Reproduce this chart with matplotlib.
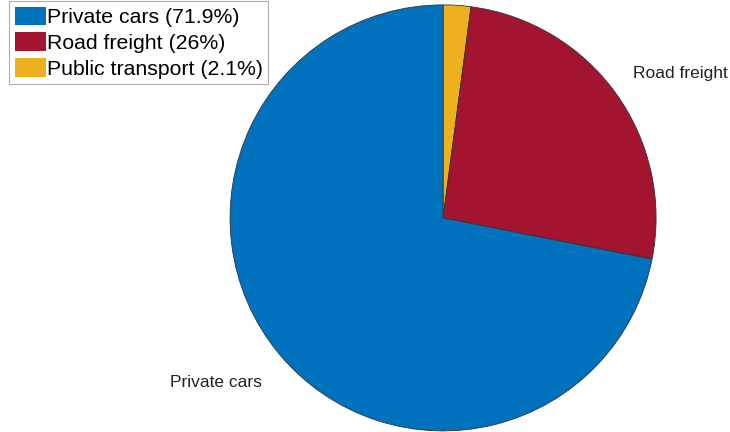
import matplotlib.pyplot as plt

plt.rcParams['font.family'] = ['Liberation Sans', 'DejaVu Sans']

# slices in drawing order (clockwise from 12 o'clock)
names = ['Public transport', 'Road freight', 'Private cars']
shares = [2.1, 26, 71.9]
slice_labels = ['', 'Road freight', 'Private cars']
colors = ['#EDB120', '#A2142F', '#0072BD']

fig = plt.figure(figsize=(7.30, 4.32), dpi=100)
ax = fig.add_axes([0, 0, 1, 1])

wedges, texts = ax.pie(shares, labels=slice_labels, colors=colors,
                       startangle=90, counterclock=False, radius=1.0,
                       labeldistance=1.1,
                       wedgeprops=dict(edgecolor='#333333', linewidth=0.6),
                       textprops=dict(fontsize=12.5, color='#222222'))

# MATLAB-like label alignment: top half sits above, bottom half hangs below
for t in texts:
    x, y = t.get_position()
    t.set_va('bottom' if y > 0 else 'top')
    if y < 0:
        t.set_position((x, y - 0.04))

ax.set_xlim(-2.08, 1.347)
ax.set_ylim(-1.005, 1.023)
ax.set_aspect('equal')
ax.axis('off')

# legend in reverse order of drawing
leg_labels = ['%s (%g%%)' % (n, s) for n, s in zip(names, shares)]
leg = ax.legend(wedges[::-1], leg_labels[::-1], loc='upper left',
                bbox_to_anchor=(0.013, 0.997), fontsize=15.3,
                handlelength=1.45, handleheight=0.95, handletextpad=0.05,
                labelspacing=0.25, borderpad=0.25, borderaxespad=0,
                frameon=True, fancybox=False, edgecolor='#999999')
leg.get_frame().set_linewidth(0.8)
for h in leg.legend_handles:
    h.set_edgecolor('none')

fig.savefig('out.png', dpi=100)
